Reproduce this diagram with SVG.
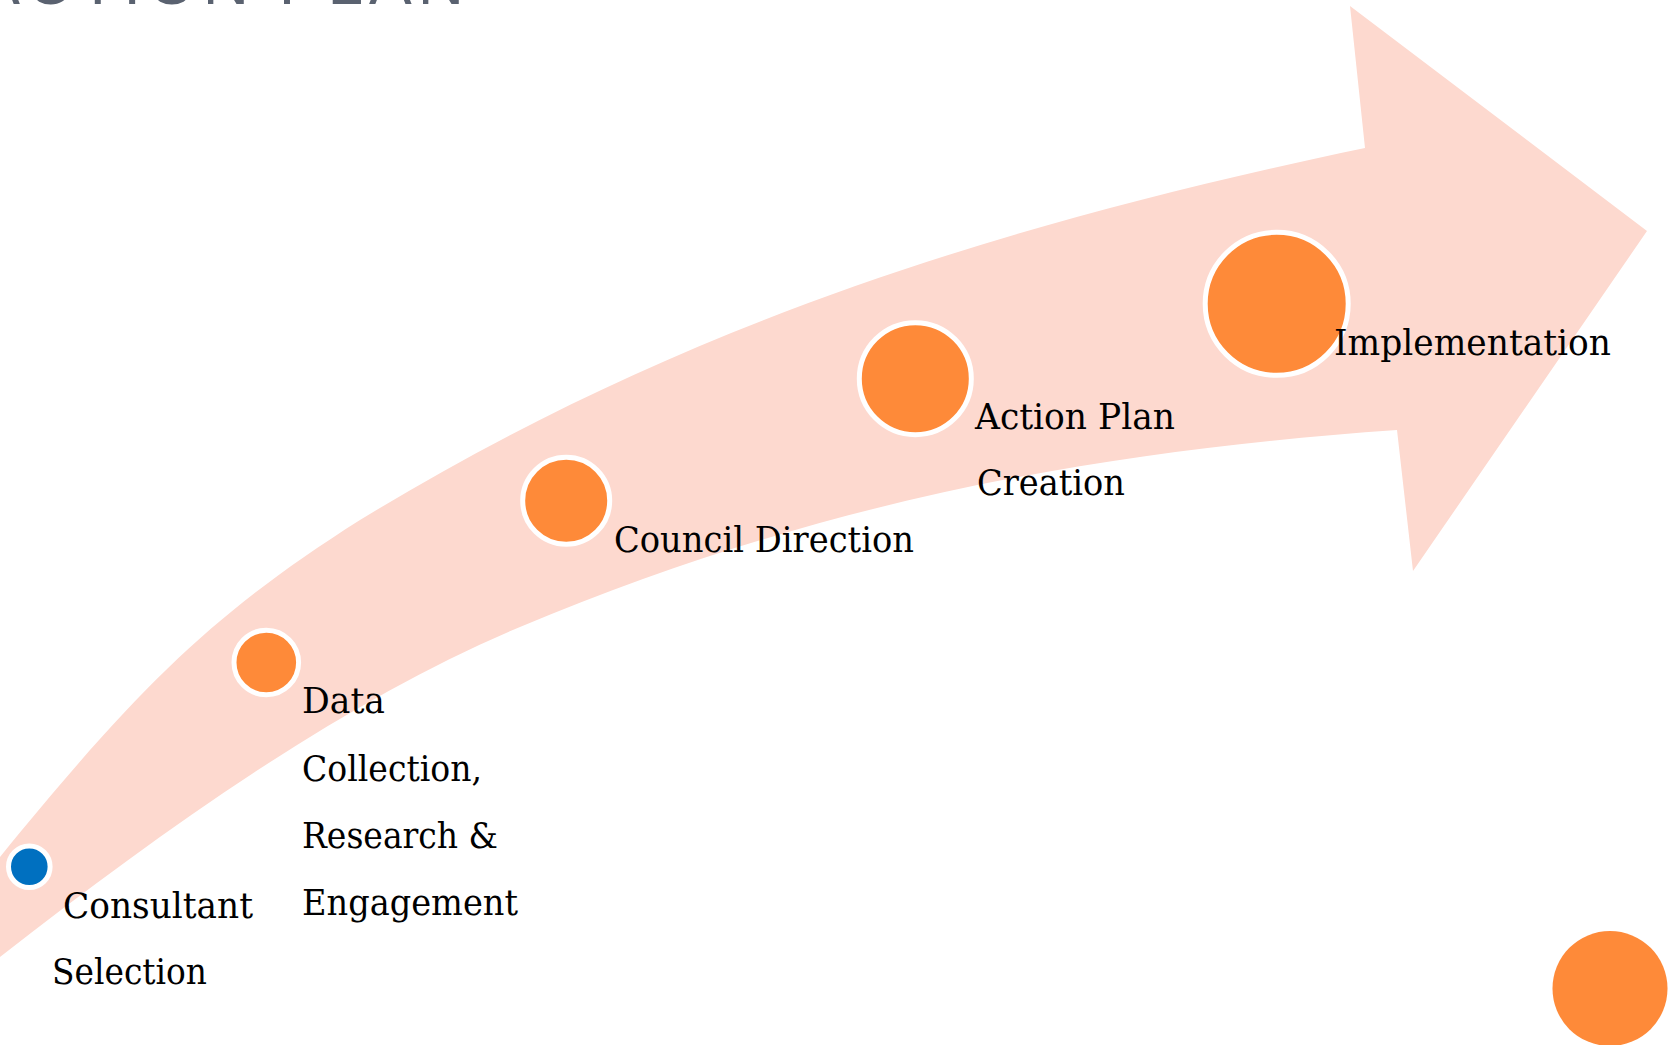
<svg xmlns="http://www.w3.org/2000/svg" width="1672" height="1045" viewBox="0 0 1672 1045">
  <style>
    .band { fill: #FDD9CF; }
    .dot { fill: #FE8A39; stroke: #FFFFFF; stroke-width: 5; }
    .dot-blue { fill: #0070C0; stroke: #FFFFFF; stroke-width: 5; }
    .lbl { font-family: "DejaVu Serif", "Liberation Serif", serif; font-size: 35px; fill: #000000; }
    .title { font-family: "Liberation Sans", Arial, sans-serif; font-size: 64px; fill: #5A6270; letter-spacing: 6px; }
  </style>
  <rect x="0" y="0" width="1672" height="1045" fill="#FFFFFF"/>
  <text class="title" x="470" y="4" text-anchor="end">ACTION PLAN</text>

  <g id="connectors">
    <path id="progress-arrow" class="band" d="M 0,857 C 140,685 215,612 360,520 C 660,337 965,232 1365,148 L 1350,6 L 1647,231 L 1413,571 L 1397,430 C 1097,451 820,501 520,627 C 347,699.7 173,822 0,957 Z"/>
  </g>

  <g id="node-consultant-selection">
    <circle class="dot-blue" cx="29.3" cy="866.7" r="20.8"/>
    <text class="lbl" x="63" y="918" textLength="190" lengthAdjust="spacingAndGlyphs">Consultant</text>
    <text class="lbl" x="52" y="984" textLength="155" lengthAdjust="spacingAndGlyphs">Selection</text>
  </g>

  <g id="node-data-collection">
    <circle class="dot" cx="266.3" cy="662.5" r="32.3"/>
    <text class="lbl" x="302" y="713" textLength="83" lengthAdjust="spacingAndGlyphs">Data</text>
    <text class="lbl" x="302" y="781" textLength="180" lengthAdjust="spacingAndGlyphs">Collection,</text>
    <text class="lbl" x="302" y="848" textLength="196" lengthAdjust="spacingAndGlyphs">Research &amp;</text>
    <text class="lbl" x="302" y="915" textLength="216" lengthAdjust="spacingAndGlyphs">Engagement</text>
  </g>

  <g id="node-council-direction">
    <circle class="dot" cx="566.2" cy="500.8" r="43.5"/>
    <text class="lbl" x="614" y="552" textLength="300" lengthAdjust="spacingAndGlyphs">Council Direction</text>
  </g>

  <g id="node-action-plan">
    <circle class="dot" cx="915.3" cy="378.7" r="56"/>
    <text class="lbl" x="975" y="429" textLength="200" lengthAdjust="spacingAndGlyphs">Action Plan</text>
    <text class="lbl" x="977" y="495" textLength="148" lengthAdjust="spacingAndGlyphs">Creation</text>
  </g>

  <g id="node-implementation">
    <circle class="dot" cx="1276.7" cy="303.8" r="71.5"/>
    <text class="lbl" x="1334" y="355" textLength="277" lengthAdjust="spacingAndGlyphs">Implementation</text>
  </g>

  <g id="decor-circle">
    <circle cx="1610" cy="988.5" r="57.5" fill="#FE8A39"/>
  </g>
</svg>
